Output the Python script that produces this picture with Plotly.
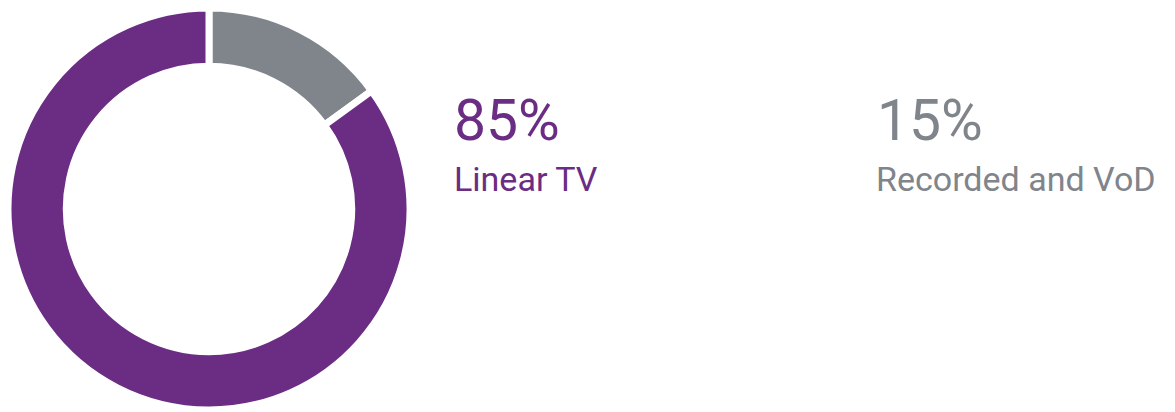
import plotly.graph_objects as go

labels = ["Recorded and VoD", "Linear TV"]
values = [15, 85]
colors = ["#80848B", "#6B2C84"]
pct_labels = ["15%", "85%"]

W, H = 1175, 412
cx, cy, r = 209, 209, 201

fig = go.Figure(go.Pie(
    labels=labels, values=values, sort=False, direction="clockwise", rotation=0,
    hole=0.71,
    marker=dict(colors=colors, line=dict(color="white", width=7)),
    textinfo="none", hoverinfo="label+percent",
    domain=dict(x=[(cx - r) / W, (cx + r) / W], y=[1 - (cy + r) / H, 1 - (cy - r) / H]),
    showlegend=False,
))

font = "Roboto"
# Linear TV
fig.add_annotation(x=452 / W, y=1 - 121 / H, xref="paper", yref="paper", xanchor="left", yanchor="middle",
                   text=pct_labels[1], showarrow=False, font=dict(family=font, size=57, color=colors[1]))
fig.add_annotation(x=452 / W, y=1 - 179 / H, xref="paper", yref="paper", xanchor="left", yanchor="middle",
                   text=labels[1], showarrow=False, font=dict(family=font, size=34, color=colors[1]))
# Recorded
fig.add_annotation(x=875 / W, y=1 - 121 / H, xref="paper", yref="paper", xanchor="left", yanchor="middle",
                   text=pct_labels[0], showarrow=False, font=dict(family=font, size=57, color=colors[0]))
fig.add_annotation(x=874 / W, y=1 - 179 / H, xref="paper", yref="paper", xanchor="left", yanchor="middle",
                   text=labels[0], showarrow=False, font=dict(family=font, size=34, color=colors[0]))

fig.update_layout(width=W, height=H, margin=dict(l=0, r=0, t=0, b=0),
                  paper_bgcolor="white", plot_bgcolor="white")
fig.write_html("out.html")
